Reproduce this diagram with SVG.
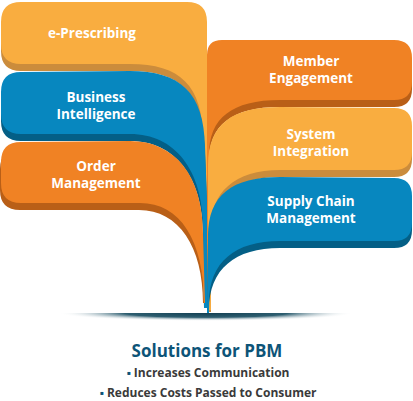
<svg xmlns="http://www.w3.org/2000/svg" width="413" height="401" viewBox="0 0 413 401">
<defs>
<style>
.lo{fill:#F9AD40}.los{fill:#CB8C3C}
.or{fill:#F08224}.ors{fill:#B95F17}
.bl{fill:#0787BF}.bls{fill:#045F86}
.lbl{font-family:"Open Sans","Liberation Sans",sans-serif;font-weight:700;font-size:13.5px;fill:#FFFFFF;text-anchor:middle}
.ttl{font-family:"Open Sans","Liberation Sans",sans-serif;font-weight:700;font-size:17px;fill:#0D5478;text-anchor:middle}
.bul{font-family:"Open Sans","Liberation Sans",sans-serif;font-weight:700;font-size:12px;fill:#3A3A3A;text-anchor:middle}
.dot{fill:#0D5478}
</style>
<radialGradient id="gs" cx="0.5" cy="0" r="0.5" fx="0.5" fy="0">
<stop offset="0" stop-color="#123F52"/>
<stop offset="0.55" stop-color="#2E5E70"/>
<stop offset="1" stop-color="#FFFFFF" stop-opacity="0"/>
</radialGradient>
</defs>
<rect width="413" height="401" fill="#FFFFFF"/>

<g id="e-prescribing">
<path class="los" transform="translate(0,7)" d="M1,22 Q1,2 21,2 L187,2 Q207,2 207,22 L207,300 L204,300 L203,140 C203,85 180,64 130,64 L21,64 Q1,64 1,44 Z"/>
<path class="lo" d="M1,22 Q1,2 21,2 L187,2 Q207,2 207,22 L207,305 L204,305 L203,140 C203,85 180,64 130,64 L21,64 Q1,64 1,44 Z"/>
<text class="lbl" x="92" y="38">e-Prescribing</text>
</g>

<g id="business-intelligence">
<path class="bls" transform="translate(0,7)" d="M1,92 Q1,72 21,72 L130,71 C180,71 204,92 205,147 L207,200 L207,300 L204,300 L203,228 C203,170 175,134 130,134 L21,134 Q1,134 1,114 Z"/>
<path class="bl" d="M1,92 Q1,72 21,72 L130,71 C180,71 204,92 205,147 L207,200 L207,308 L204,308 L203,228 C203,170 175,134 130,134 L21,134 Q1,134 1,114 Z"/>
<text class="lbl" x="96" y="102">Business</text>
<text class="lbl" x="96" y="119">Intelligence</text>
</g>

<g id="order-management">
<path class="ors" transform="translate(-1,7)" d="M1,162 Q1,142 21,142 L130,141 C175,141 203,176 203,234 L205,296 L204,296 C204,240 180,203 140,203 L21,203 Q1,203 1,183 Z"/>
<path class="or" d="M1,162 Q1,142 21,142 L130,141 C175,141 203,176 203,234 L205,303 L204,303 C204,240 180,203 140,203 L21,203 Q1,203 1,183 Z"/>
<text class="lbl" x="96" y="171">Order</text>
<text class="lbl" x="96" y="188">Management</text>
</g>

<g id="member-engagement">
<path class="ors" transform="translate(0,7)" d="M207,305 L207,55 Q207,40 222,40 L394,40 Q412,40 412,58 L412,82 Q412,100 394,100 L280,100 C232,100 209,118 209,155 L210,305 Z"/>
<path class="or" d="M207,310 L207,55 Q207,40 222,40 L394,40 Q412,40 412,58 L412,82 Q412,100 394,100 L280,100 C232,100 209,118 209,155 L210,310 Z"/>
<text class="lbl" x="311" y="66">Member</text>
<text class="lbl" x="311" y="83">Engagement</text>
</g>

<g id="system-integration">
<path class="los" transform="translate(0,7)" d="M208,305 L208,165 C208,124 232,107 280,107 L394,108 Q412,108 412,126 L412,152 Q412,170 394,170 L280,170 C235,170 210,191 210,234 L211,305 Z"/>
<path class="lo" d="M208,310 L208,165 C208,124 232,107 280,107 L394,108 Q412,108 412,126 L412,152 Q412,170 394,170 L280,170 C235,170 210,191 210,234 L211,310 Z"/>
<text class="lbl" x="311" y="139">System</text>
<text class="lbl" x="311" y="156">Integration</text>
</g>

<g id="supply-chain-management">
<path class="bls" transform="translate(0,7)" d="M207,306 L208,236 C208,195 232,177 280,177 L394,178 Q412,178 412,196 L412,223 Q412,241 394,241 L280,241 C235,241 209,262 209,303 L209,306 Z"/>
<path class="bl" d="M207,313 L208,236 C208,195 232,177 280,177 L394,178 Q412,178 412,196 L412,223 Q412,241 394,241 L280,241 C235,241 209,262 209,303 L209,313 Z"/>
<text class="lbl" x="311" y="206">Supply Chain</text>
<text class="lbl" x="311" y="223">Management</text>
</g>

<g id="connectors"></g>

<g id="ground-shadow">
<path d="M58,313 L354,313 Q300,329 206,329 Q112,329 58,313 Z" fill="url(#gs)"/>
</g>

<g id="caption">
<text class="ttl" x="207" y="357">Solutions for PBM</text>
<text class="bul" x="208" y="377"><tspan class="dot">▪</tspan> Increases Communication</text>
<text class="bul" x="208" y="397"><tspan class="dot">▪</tspan> Reduces Costs Passed to Consumer</text>
</g>
</svg>
